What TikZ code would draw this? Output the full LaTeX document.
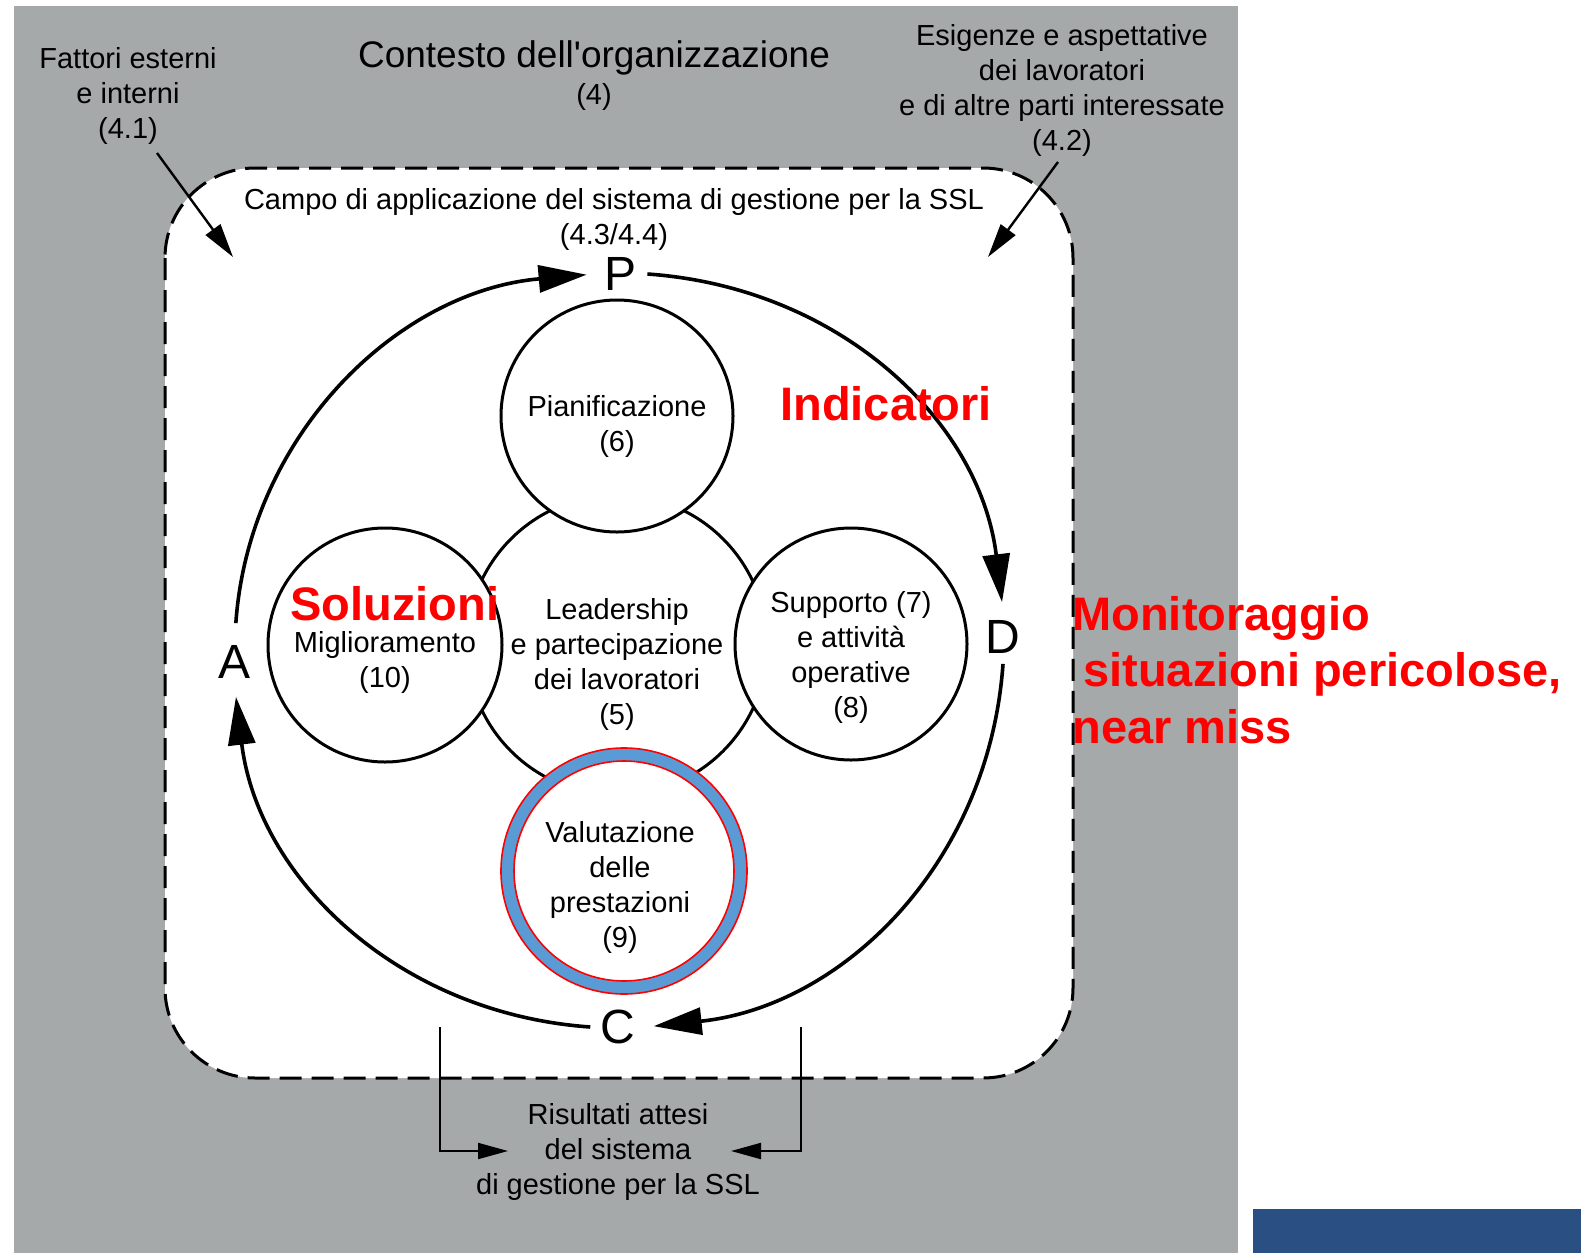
\documentclass[tikz,border=0pt]{standalone}
\usepackage{fontspec}
\setmainfont{Liberation Sans}[Ligatures=TeXOff]
\usepackage{tikz}
\usetikzlibrary{arrows.meta}
\definecolor{pannello}{RGB}{166,169,169}
\definecolor{fascia}{RGB}{41,79,131}
\definecolor{anello}{RGB}{91,155,213}

\begin{document}
\begin{tikzpicture}[x=0.5pt,y=0.5pt,
  testo/.style={font=\fontsize{14.5}{17.5}\selectfont,align=center},
  lettera/.style={font=\fontsize{24}{24}\selectfont,inner sep=5pt},
  nota/.style={font=\fontsize{23.5}{28.25}\selectfont\bfseries,text=red},
  cerchio/.style={circle,draw=black,line width=1.5pt,fill=white},
  ciclo/.style={line width=1.8pt,-{Triangle[length=24pt,width=13.5pt]},shorten >=4pt},
  freccia/.style={line width=1.2pt,-{Triangle[length=17pt,width=9pt]}},
  graffa/.style={line width=1pt,-{Triangle[length=15pt,width=8pt]}}]
\tikzstyle{every node}+=[inner sep=0pt]
\useasboundingbox (0,0) rectangle (1581,-1253);
\fill [white] (0,0) rectangle (1581,-1253);
\fill [pannello] (14,-6) rectangle (1238,-1253);
\fill [fascia] (1253,-1209) rectangle (1581,-1253);
\draw [black,line width=1.5pt,dash pattern=on 11pt off 5pt,fill=white,rounded corners=45pt] (165,-168) rectangle (1073,-1078);

\node [font=\fontsize{18.5}{22}\selectfont] (ctx) at (594,-58) {Contesto dell'organizzazione};
\node [testo] (ctxnum) at (594,-97) {(4)};
\node [testo] (fattori) at (128,-96) {Fattori esterni\\e interni\\(4.1)};
\node [testo] (esigenze) at (1062,-90) {Esigenze e aspettative\\dei lavoratori\\e di altre parti interessate\\(4.2)};
\node [testo] (campo) at (614,-219) {Campo di applicazione del sistema di gestione per la SSL\\(4.3/4.4)};
\coordinate (fattoriA) at (157,-153);
\coordinate (fattoriB) at (233,-257);
\coordinate (esigenzeA) at (1058,-162);
\coordinate (esigenzeB) at (988,-257);
\draw [freccia] (fattoriA) -- (fattoriB);
\draw [freccia] (esigenzeA) -- (esigenzeB);

\node [cerchio,minimum size=150pt] (lead) at (617,-645) {};
\node [cerchio,minimum size=116pt] (pian) at (617,-416) {};
\node [cerchio,minimum size=117pt] (migl) at (385,-645) {};
\node [cerchio,minimum size=116pt] (supp) at (851,-644) {};
\node [circle,fill=anello,draw=red,line width=0.8pt,minimum size=123pt] (valE) at (624,-871) {};
\node [circle,fill=white,draw=red,line width=0.8pt,minimum size=110pt] (valI) at (624,-871) {};

\node [testo] (pianT) at (617,-426) {Pianificazione\\(6)};
\node [testo] (leadT) at (617,-664) {Leadership\\e partecipazione\\dei lavoratori\\(5)};
\node [testo] (miglT) at (385,-662) {Miglioramento\\(10)};
\node [testo] (suppT) at (851,-657) {Supporto (7)\\e attività\\operative\\(8)};
\node [testo] (valT) at (620,-887) {Valutazione\\delle\\prestazioni\\(9)};

\node [lettera] (P) at (621,-274) {P};
\node [lettera] (D) at (1003,-637) {D};
\node [lettera] (C) at (618,-1027) {C};
\node [lettera] (A) at (235,-662) {A};
\draw [ciclo,shorten <=6pt] (A.north) to[out=86,in=185] (P.west);
\draw [ciclo] (P.east) to[out=-4,in=97] (D.north);
\draw [ciclo] (D.south) to[out=-94,in=6] (C.east);
\draw [ciclo] (C.west) to[out=176,in=277] (A.south);

\node [testo] (ris) at (618,-1152) {Risultati attesi\\del sistema\\di gestione per la SSL};
\coordinate (risSx) at (440,-1027);
\coordinate (risSxB) at (508,-1151);
\coordinate (risDx) at (801,-1027);
\coordinate (risDxB) at (731,-1151);
\draw [graffa] (risSx) |- (risSxB);
\draw [graffa] (risDx) |- (risDxB);

\node [nota,anchor=base west] (ind) at (780,-420) {Indicatori};
\node [nota,anchor=base west] (sol) at (290,-620) {Soluzioni};
\node [nota,anchor=north west,align=left] (mon) at (1072,-596) {Monitoraggio\\\hspace*{5.5pt}situazioni pericolose,\\near miss};
\end{tikzpicture}
\end{document}
